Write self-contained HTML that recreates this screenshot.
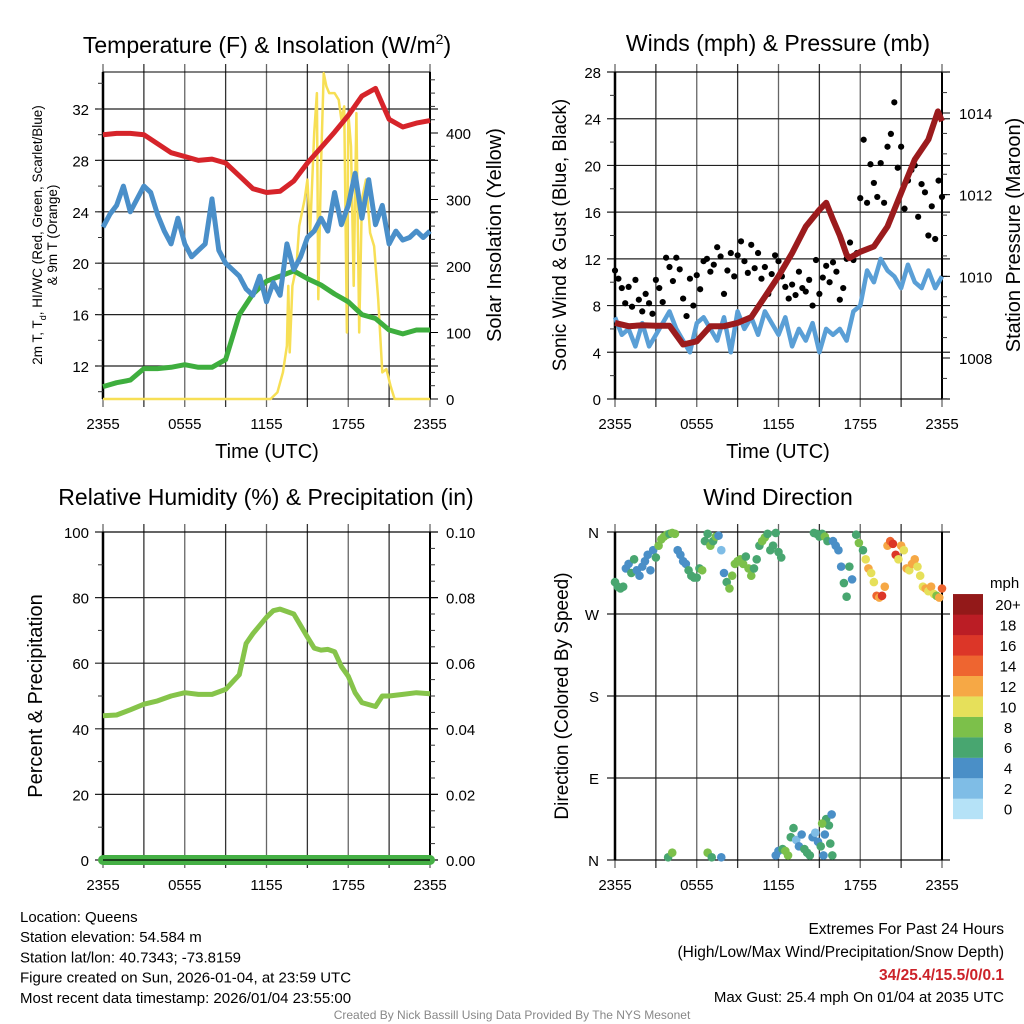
<!DOCTYPE html>
<html><head><meta charset="utf-8"><style>
html,body{margin:0;padding:0;background:#fff}
svg{display:block;font-family:"Liberation Sans",sans-serif}
</style></head><body>
<svg id="c" width="1024" height="1024" viewBox="0 0 1024 1024"></svg>
<script>
// ---------- DATA ----------
const hours=[0,1,2,3,4,5,6,7,8,9,10,11,12,13,14,15,16,17,18,19,20,21,22,23,24];
const tempRed=[30.0,30.1,30.1,30.0,29.3,28.6,28.3,28.0,28.1,27.8,26.8,25.8,25.5,25.6,26.4,27.8,29.0,30.2,31.5,33.0,33.6,31.2,30.6,30.9,31.1];
const dewGreen=[10.4,10.7,10.9,11.8,11.8,11.9,12.1,11.9,11.9,12.5,16.0,17.6,18.6,19.0,19.4,18.8,18.3,17.6,17.0,16.0,15.7,14.8,14.5,14.8,14.8];
const halfHours=[0,0.5,1,1.5,2,2.5,3,3.5,4,4.5,5,5.5,6,6.5,7,7.5,8,8.5,9,9.5,10,10.5,11,11.5,12,12.5,13,13.5,14,14.5,15,15.5,16,16.5,17,17.5,18,18.5,19,19.5,20,20.5,21,21.5,22,22.5,23,23.5,24];
const chillBlue=[22.8,23.8,24.5,26.0,24.0,25.0,26.0,25.5,23.8,22.5,21.5,23.5,21.5,20.5,21.0,21.5,25.0,21.0,20.0,19.5,19.0,18.0,17.5,19.0,17.0,18.5,17.5,21.5,19.5,20.5,22.0,22.5,23.5,22.5,25.5,23.0,24.5,27.0,23.5,26.5,23.0,24.5,21.5,22.5,21.8,22.0,22.5,22.0,22.5];
const solarT=[0,12.3,12.8,13.2,13.5,13.6,13.7,13.9,14.2,14.4,14.8,15.0,15.2,15.5,15.7,15.8,16.0,16.2,16.4,16.6,17.0,17.3,17.5,17.7,17.9,18.0,18.2,18.4,18.6,18.8,19.0,19.3,19.6,19.9,20.2,20.5,20.8,21.1,21.4,24];
const solarV=[0,0,10,40,80,170,70,170,200,260,300,330,250,400,460,150,350,490,470,460,460,450,420,440,100,430,380,170,430,100,300,330,250,230,150,40,45,20,0,0];
const windBlue=[7.0,5.5,6.0,4.5,6.5,4.5,5.5,6.5,7.5,6.0,5.0,4.0,6.5,7.0,6.0,5.0,7.0,4.0,7.5,6.0,7.0,5.5,7.5,6.5,5.5,7.0,4.5,6.0,5.0,6.5,4.0,6.0,5.5,6.0,5.0,7.5,8.0,11.0,10.0,12.0,11.0,10.5,9.5,11.5,10.0,9.5,11.0,9.5,10.5];
const gustV=[11.0,10.3,9.5,8.2,9.6,7.9,10.2,8.5,7.5,9.0,8.2,7.3,10.2,9.5,8.3,12.1,11.3,10.1,12.1,11.1,8.6,7.1,10.3,8.0,10.6,9.4,11.8,12.0,10.9,11.5,13.0,12.2,9.0,11.0,12.5,10.5,12.3,13.5,11.8,10.8,13.2,11.2,12.5,10.3,11.3,9.0,10.7,12.3,11.8,10.5,9.6,8.6,9.8,8.9,10.9,9.5,9.2,10.2,8.0,11.9,9.0,10.4,11.4,10.0,11.7,10.9,8.5,9.5,12.0,13.4,11.9,12.5,17.2,22.2,16.8,20.1,18.5,17.3,20.2,16.8,21.6,22.7,25.4,19.8,21.6,16.3,18.7,19.6,20.0,15.6,18.4,17.7,14.0,16.5,13.7,18.7,17.3];
const pressT=[0,1,2,3,4,5,6,7,8,9,10,11,12,13,14,15,15.5,16,16.5,17,17.2,18,19,20,21,22,23,23.7,24];
const pressV=[1008.86,1008.78,1008.8,1008.79,1008.79,1008.33,1008.41,1008.78,1008.78,1008.86,1009.0,1009.5,1010.0,1010.57,1011.22,1011.63,1011.8,1011.39,1011.0,1010.53,1010.45,1010.6,1010.73,1011.22,1012.04,1012.86,1013.35,1014.04,1013.8];
const rhT=[0,1,2,3,4,5,6,7,8,9,10,10.5,11,12,12.5,13,14,15,15.5,16,16.5,17,17.5,18,18.5,19,20,20.5,21,22,23,24];
const rhV=[44,44.2,45.8,47.5,48.5,50,51,50.5,50.5,52,56.5,66,69,74,76,76.5,75,68,64.6,64,64.2,63.5,59,56,51,48,46.8,50,50,50.5,51,50.7];
const precipV=[0,0,0,0,0,0,0,0,0,0,0,0,0,0,0,0,0,0,0,0,0,0,0,0,0];
const dirT=[0,0.2,0.4,0.6,0.8,1.0,1.2,1.4,1.6,1.8,2.0,2.2,2.4,2.6,2.8,3.0,3.2,3.4,3.6,3.8,4.0,4.2,4.4,4.6,4.8,5.0,5.2,5.4,5.6,5.8,6.0,6.2,6.4,6.6,6.8,7.0,7.2,7.4,7.6,7.8,8.0,8.2,8.4,8.6,8.8,9.0,9.2,9.4,9.6,9.8,10.0,10.2,10.4,10.6,10.8,11.0,11.2,11.4,11.6,11.8,12.0,12.2,14.6,14.8,15.0,15.2,15.4,15.6,16.0,16.2,16.4,16.6,16.8,17.0,17.2,17.4,17.7,17.9,18.2,18.4,18.6,18.8,19.0,19.2,19.4,19.6,19.8,20.0,20.2,20.4,20.6,20.8,21.0,21.2,21.4,21.6,21.8,22.0,22.2,22.4,22.6,22.8,23.0,23.2,23.4,23.6,23.8,24.0,3.9,4.2,6.8,7.1,7.8,11.8,12.0,12.3,12.5,12.7,12.9,13.1,13.3,13.5,13.7,13.9,14.1,14.3,14.5,14.7,14.9,15.1,15.3,15.5,15.7,15.9,15.8,15.95,15.2,15.4];
const dirD=[305,300,298,300,320,325,315,330,318,312,322,328,335,318,340,332,345,352,355,357,358,359,358,340,335,328,325,318,312,310,310,320,318,350,358,345,350,355,356,340,315,305,298,312,325,328,330,325,333,320,312,320,330,345,350,354,358,340,345,359,338,332,359,358,355,358,355,350,350,345,340,322,304,289,322,308,357,348,340,330,320,315,305,290,288,290,300,345,350,347,335,330,345,340,320,318,325,330,322,312,300,298,295,300,292,290,288,298,3,8,8,3,3,5,10,12,10,5,25,35,22,15,28,12,8,5,25,30,20,15,5,45,38,50,18,5,40,28];
const dirS=[6,6,6,6,4,4,6,6,4,4,4,4,4,4,4,6,8,8,8,8,6,8,8,4,4,4,4,6,6,6,6,6,8,6,6,8,6,8,4,2,4,6,8,8,8,8,8,8,6,8,8,6,6,6,8,8,6,6,6,6,6,6,6,6,6,6,8,6,4,4,4,4,6,6,6,4,6,8,6,10,12,10,10,14,12,16,12,12,14,16,16,10,12,10,12,10,12,12,10,10,10,12,10,12,10,8,12,14,6,8,8,6,4,4,4,6,8,8,6,6,2,4,4,6,6,6,4,2,4,6,4,6,6,4,6,6,8,4];
const speedColors=['#b5e2f7','#7fbde6','#4a8fc7','#48a670','#7cc04a','#e6e05a','#f6a845','#ee6530','#dc3628','#bb1d25','#931919'];
const speedLabels=['0','2','4','6','8','10','12','14','16','18','20+'];
const xTicks=['2355','0555','1155','1755','2355'];

// ---------- HELPERS ----------
const svg=document.getElementById('c');
const NS='http://www.w3.org/2000/svg';
function mk(tag,at,parent){const e=document.createElementNS(NS,tag);for(const k in at)e.setAttribute(k,at[k]);(parent||svg).appendChild(e);return e;}
function txt(s,x,y,size,anchor,extra,parent){const e=mk('text',Object.assign({x:x,y:y,'font-size':size,'text-anchor':anchor||'middle',fill:'#000'},extra||{}),parent);e.textContent=s;return e;}
function lin(d0,d1,r0,r1){return v=>r0+(v-d0)*(r1-r0)/(d1-d0);}
function pathOf(xs,ys,fx,fy){return xs.map((t,i)=>(i?'L':'M')+fx(t).toFixed(1)+','+fy(ys[i]).toFixed(1)).join('');}

function frame(g,L,R,T,B,hGrid,name){
  for(let h=0;h<=24;h+=3){const x=L+(R-L)*h/24;
    const l=mk('line',{x1:x,x2:x,y1:T-8,y2:B+8,stroke:h%6?'#333':'#666','stroke-width':1.3},g);
    }
  hGrid.forEach(y=>{const l=mk('line',{x1:L-8,x2:R+8,y1:y,y2:y,stroke:'#222','stroke-width':1.2},g);
    });
  const r=mk('rect',{x:L,y:T,width:R-L,height:B-T,fill:'none',stroke:'#000','stroke-width':1},g);
  
  mk('line',{x1:L,x2:L,y1:T,y2:B,stroke:'#000','stroke-width':2.5},g);
  mk('line',{x1:R,x2:R,y1:T,y2:B,stroke:'#000','stroke-width':2},g);
  xTicks.forEach((s,i)=>{const t=txt(s,L+(R-L)*i/4,B+30,15,'middle',{},g);
    });
}
function minorTicks(g,x,dir,vals,fy,T,B){vals.forEach(v=>{const y=fy(v);if(y<T-0.5||y>B+0.5)return;mk('line',{x1:x,x2:x+dir*5,y1:y,y2:y,stroke:'#333','stroke-width':1},g);});}
function range(a,b,s){const r=[];for(let v=a;v<=b+1e-9;v+=s)r.push(+v.toFixed(4));return r;}

// ---------- PANEL 1 ----------
{const L=103,R=430,T=72,B=399;
 const g=mk('g',{});
 const fx=lin(0,24,L,R), fy=lin(12,32,366,109), fs=lin(0,400,399,133);
 const majors=[12,16,20,24,28,32];
 frame(g,L,R,T,B,majors.map(fy),'temperature');
 minorTicks(g,L,-1,range(10,34,2),fy,T,B);
 minorTicks(g,R,1,range(20,480,20),fs,T,B);
 majors.forEach(v=>{const t=txt(String(v),L-14,fy(v)+6,15,'end',{},g);});
 [0,100,200,300,400].forEach(v=>{mk('line',{x1:R,x2:R+8,y1:fs(v),y2:fs(v),stroke:'#000'},g);
   const t=txt(String(v),R+16,fs(v)+6,15,'start',{},g);});
 let p=mk('path',{d:pathOf(solarT,solarV,fx,fs),fill:'none',stroke:'#f7df55','stroke-width':2.5,'stroke-linejoin':'round'},g);
 
 p=mk('path',{d:pathOf(hours,dewGreen,fx,fy),fill:'none',stroke:'#3eae3e','stroke-width':5,'stroke-linejoin':'round'},g);
 
 p=mk('path',{d:pathOf(halfHours,chillBlue,fx,fy),fill:'none',stroke:'#4a8fc9','stroke-width':5,'stroke-linejoin':'round'},g);
 
 p=mk('path',{d:pathOf(hours,tempRed,fx,fy),fill:'none',stroke:'#d6242a','stroke-width':5,'stroke-linejoin':'round'},g);
 
 let t=mk('text',{x:267,y:53,'font-size':23,'text-anchor':'middle'},g);t.innerHTML='Temperature (F) &amp; Insolation (W/m<tspan dy="-9" font-size="14">2</tspan><tspan dy="9">)</tspan>';
 
 t=txt('Time (UTC)',267,458,20,'middle',{},g);
 t=mk('text',{x:0,y:0,'font-size':13.5,'text-anchor':'middle',transform:'translate(42,235) rotate(-90)'},g);
 t.innerHTML='2m T, T<tspan dy="4" font-size="9">d</tspan><tspan dy="-4">, HI/WC (Red, Green, Scarlet/Blue)</tspan>';
 
 t=txt('& 9m T (Orange)',0,0,13.5,'middle',{transform:'translate(57,235) rotate(-90)'},g);
 t=txt('Solar Insolation (Yellow)',0,0,20,'middle',{transform:'translate(501,235) rotate(-90)'},g);
}

// ---------- PANEL 2 ----------
{const L=615,R=942,T=72,B=399;
 const g=mk('g',{});
 const fx=lin(0,24,L,R), fy=lin(0,28,399,72), fp=lin(1008,1014,358,113);
 const majors=[0,4,8,12,16,20,24,28];
 frame(g,L,R,T,B,majors.map(fy),'winds');
 minorTicks(g,L,-1,range(2,26,4),fy,T,B);
 minorTicks(g,R,1,range(1007,1015.5,0.5),fp,T,B);
 majors.forEach(v=>{const t=txt(String(v),L-14,fy(v)+6,15,'end',{},g);});
 [1008,1010,1012,1014].forEach(v=>{mk('line',{x1:R,x2:R+8,y1:fp(v),y2:fp(v),stroke:'#000'},g);
   const t=txt(String(v),R+17,fp(v)+6,15,'start',{},g);});
 let p=mk('path',{d:pathOf(halfHours,windBlue,fx,fy),fill:'none',stroke:'#5a9fd6','stroke-width':4.5,'stroke-linejoin':'round'},g);
 
 gustV.forEach((v,i)=>{const c=mk('circle',{cx:fx(i*0.25),cy:fy(v),r:3.1,fill:'#000'},g);
   });
 p=mk('path',{d:pathOf(pressT,pressV,fx,fp),fill:'none',stroke:'#9b1b1d','stroke-width':6,'stroke-linejoin':'round'},g);
 
 let t=txt('Winds (mph) & Pressure (mb)',778,51,23,'middle',{},g);
 t=txt('Time (UTC)',778,458,20,'middle',{},g);
 t=txt('Sonic Wind & Gust (Blue, Black)',0,0,19,'middle',{transform:'translate(566,235) rotate(-90)'},g);
 t=txt('Station Pressure (Maroon)',0,0,20,'middle',{transform:'translate(1020,235) rotate(-90)'},g);
}

// ---------- PANEL 3 ----------
{const L=103,R=430,T=532,B=860;
 const g=mk('g',{});
 const fx=lin(0,24,L,R), fy=lin(0,100,860,532), fq=lin(0,0.1,860,532);
 const majors=[0,20,40,60,80,100];
 frame(g,L,R,T,B,majors.map(fy),'humidity');
 minorTicks(g,L,-1,range(10,90,20),fy,T,B);
 minorTicks(g,R,1,range(0.005,0.095,0.005),fq,T,B);
 majors.forEach(v=>{const t=txt(String(v),L-14,fy(v)+6,15,'end',{},g);});
 [0,0.02,0.04,0.06,0.08,0.1].forEach(v=>{mk('line',{x1:R,x2:R+8,y1:fq(v),y2:fq(v),stroke:'#000'},g);
   const t=txt(v.toFixed(2),R+16,fq(v)+6,15,'start',{},g);});
 let p=mk('path',{d:pathOf(rhT,rhV,fx,fy),fill:'none',stroke:'#86c44a','stroke-width':5,'stroke-linejoin':'round'},g);
 
 p=mk('path',{d:pathOf(hours,precipV,fx,fq),fill:'none',stroke:'#45b045','stroke-width':10,'stroke-linecap':'round'},g);
 
 mk('line',{x1:L,x2:R,y1:B,y2:B,stroke:'#000','stroke-width':1.2},g);
 let t=txt('Relative Humidity (%) & Precipitation (in)',266,505,23,'middle',{},g);
 t=txt('Percent & Precipitation',0,0,20,'middle',{transform:'translate(42,696) rotate(-90)'},g);
}

// ---------- PANEL 4 ----------
{const L=615,R=942,T=532,B=860;
 const g=mk('g',{});
 const fx=lin(0,24,L,R), fy=lin(0,360,860,532);
 const dirs=[[0,'N'],[90,'E'],[180,'S'],[270,'W'],[360,'N']];
 frame(g,L,R,T,B,dirs.map(d=>fy(d[0])),'direction');
 dirs.forEach(d=>{const t=txt(d[1],L-16,fy(d[0])+6,15,'end',{},g);});
 dirT.forEach((tt,i)=>{const c=mk('circle',{cx:fx(tt),cy:fy(dirD[i]),r:4.3,fill:speedColors[Math.min(10,Math.floor(dirS[i]/2))]},g);
   });
 let t=txt('Wind Direction',778,505,23,'middle',{},g);
 t=txt('Direction (Colored By Speed)',0,0,19,'middle',{transform:'translate(568,696) rotate(-90)'},g);
 const lg=mk('g',{},g);
 t=txt('mph',990,588,15,'start',{},lg);
 speedColors.forEach((c,i)=>{const y=819-(i+1)*20.45;
   const r=mk('rect',{x:953,y:y,width:30,height:20.6,fill:c},lg);
   const l=txt(speedLabels[i],1008,y+16,15,'middle',{},lg);});
}

// ---------- FOOTER TEXT ----------
{const g=mk('g',{});
 ['Location: Queens','Station elevation: 54.584 m','Station lat/lon: 40.7343; -73.8159','Figure created on Sun, 2026-01-04, at 23:59 UTC','Most recent data timestamp: 2026/01/04 23:55:00']
 .forEach((s,i)=>{const t=txt(s,20,922+i*20.2,15,'start',{},g);});
 let t=txt('Extremes For Past 24 Hours',1004,934,15.5,'end',{},g);
 t=txt('(High/Low/Max Wind/Precipitation/Snow Depth)',1004,957,15.5,'end',{},g);
 t=txt('34/25.4/15.5/0/0.1',1004,980,15.5,'end',{fill:'#cc2229','font-weight':'bold'},g);
 t=txt('Max Gust: 25.4 mph On 01/04 at 2035 UTC',1004,1002,15,'end',{},g);
 t=txt('Created By Nick Bassill Using Data Provided By The NYS Mesonet',512,1019,12,'middle',{fill:'#888'},g);
}
</script>
</body></html>
